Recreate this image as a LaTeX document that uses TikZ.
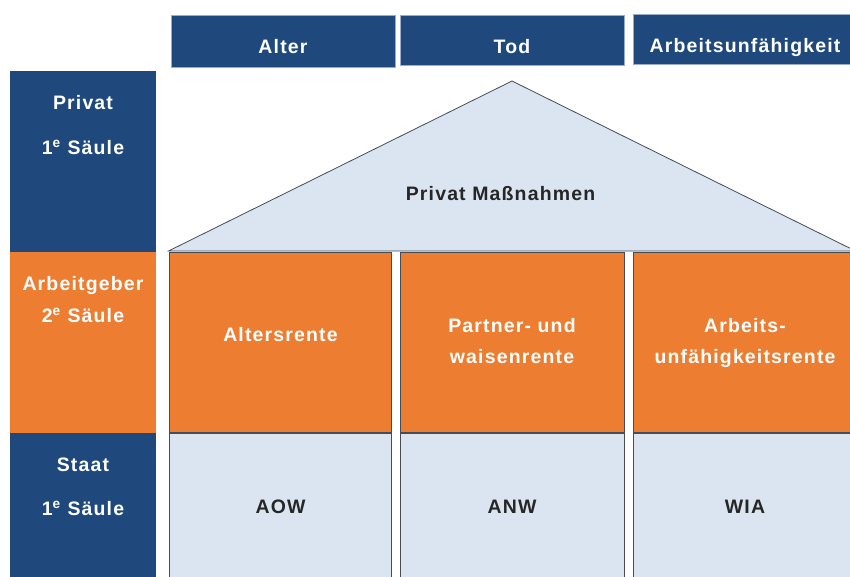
\documentclass[tikz,border=0pt]{standalone}
\usepackage{fontspec}
\usetikzlibrary{fit}
\newfontfamily\boxfont[LetterSpace=6]{Liberation Sans}
\definecolor{navy}{HTML}{1F497D}
\definecolor{pillarorange}{HTML}{ED7D31}
\definecolor{paleblue}{HTML}{DBE5F1}
\definecolor{edgegray}{HTML}{474C55}
\definecolor{headeredge}{HTML}{9AAECB}
\definecolor{darktext}{HTML}{262626}
\begin{document}
\begin{tikzpicture}[x=0.75pt,y=-0.75pt,
  area/.style={inner sep=0pt, outer sep=0pt},
  header/.style={area, fill=navy, draw=headeredge, line width=0.6pt},
  side/.style={area, fill=#1, draw=none},
  cell/.style={area, fill=#1, draw=edgegray, line width=0.6pt},
  roof/.style={fill=paleblue, draw=edgegray, line width=0.6pt, line join=miter},
  lbl/.style={inner sep=0pt, anchor=base, font=\boxfont\bfseries\fontsize{14.6}{17}\selectfont},
  wlbl/.style={lbl, text=white},
  dlbl/.style={lbl, text=darktext}
]
\useasboundingbox (0,0) rectangle (850,576);
\clip (0,0) rectangle (850,576);

% risk headers along the top
\node[header, fit={(171,15) (395,67)}] (hAlter) {};
\node[header, fit={(400,15) (624,65)}] (hTod) {};
\node[header, fit={(633,14) (856,64)}] (hAU) {};
\node[wlbl] (tAlter) at (283,53) {Alter};
\node[wlbl] (tTod) at (512,53) {Tod};
\node[wlbl] (tAU) at (745,52) {Arbeitsunfähigkeit};

% left column: the three pillars
\node[side=navy, fit={(10,71) (156,252)}] (sPrivat) {};
\node[side=pillarorange, fit={(10,252) (156,433)}] (sArbeit) {};
\node[side=navy, fit={(10,433) (156,580)}] (sStaat) {};
\node[wlbl] (tPrivat) at (83,109) {Privat};
\node[wlbl] (tPrivatS) at (83,154) {1\textsuperscript{e} Säule};
\node[wlbl] (tArbeit) at (83,290) {Arbeitgeber};
\node[wlbl] (tArbeitS) at (83,322) {2\textsuperscript{e} Säule};
\node[wlbl] (tStaat) at (83,471) {Staat};
\node[wlbl] (tStaatS) at (83,515) {1\textsuperscript{e} Säule};

% roof of the house
\coordinate (roofL) at (168.5,251);
\coordinate (roofTop) at (512,81);
\coordinate (roofR) at (855.5,251);
\draw[roof] (roofL) -- (roofTop) -- (roofR) -- cycle;
\node[dlbl] (tRoof) at (500.5,200) {Privat Maßnahmen};

% employer row
\node[cell=pillarorange, fit={(169,252) (391.5,432.5)}] (cAlters) {};
\node[cell=pillarorange, fit={(400,252) (624,432.5)}] (cPartner) {};
\node[cell=pillarorange, fit={(633,252) (856,432.5)}] (cAU) {};
\node[wlbl] (tAlters) at (280.5,341) {Altersrente};
\node[wlbl] (tPartner1) at (512,332) {Partner- und};
\node[wlbl] (tPartner2) at (512,363) {waisenrente};
\node[wlbl] (tAU1) at (745,332) {Arbeits-};
\node[wlbl] (tAU2) at (745,363) {unfähigkeitsrente};

% state row
\node[cell=paleblue, fit={(169,433) (391.5,580)}] (cAOW) {};
\node[cell=paleblue, fit={(400,433) (624,580)}] (cANW) {};
\node[cell=paleblue, fit={(633,433) (856,580)}] (cWIA) {};
\node[dlbl] (tAOW) at (280.5,513) {AOW};
\node[dlbl] (tANW) at (512,513) {ANW};
\node[dlbl] (tWIA) at (745,513) {WIA};
\end{tikzpicture}
\end{document}
